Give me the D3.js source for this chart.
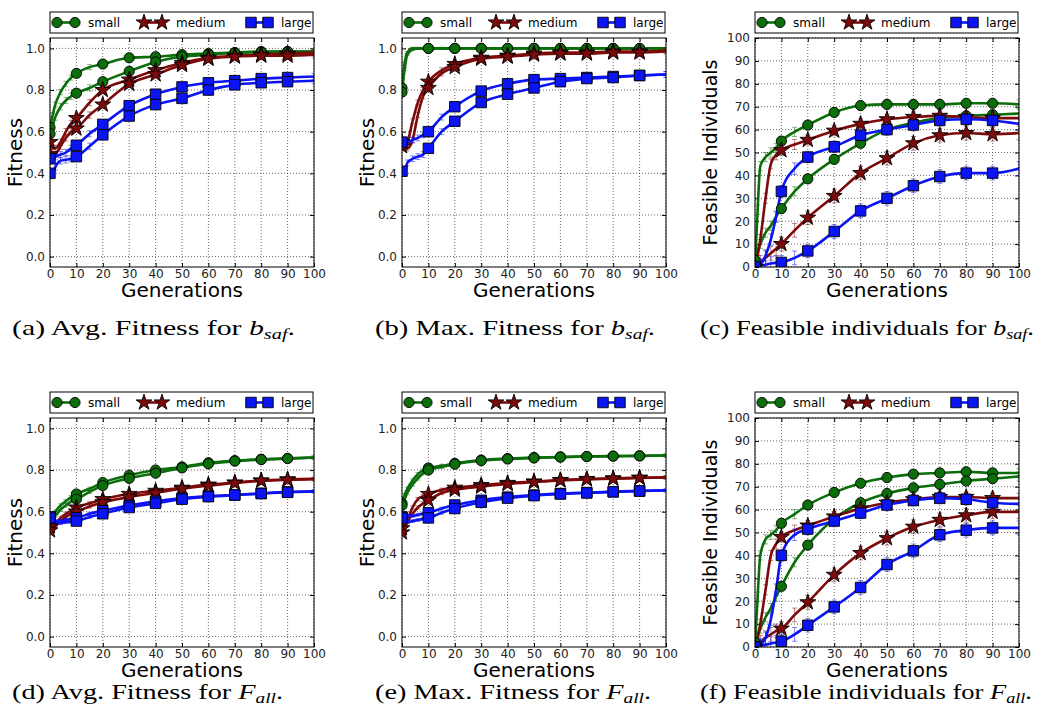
<!DOCTYPE html>
<html>
<head>
<meta charset="utf-8">
<script src="https://cdn.jsdelivr.net/npm/d3@7"></script>
<style>
  body { margin: 0; background: #fff; }
  svg { display: block; }
</style>
</head>
<body>
<svg id="chart"></svg>
<script>
var gens = [0, 1, 2, 4, 6, 8, 10, 15, 20, 30, 40, 50, 60, 70, 80, 90, 100];
var markerGens = [0, 10, 20, 30, 40, 50, 60, 70, 80, 90];
var sizes = ["small", "medium", "large"];

// (a) avg fitness b_saf
var aSmall1 = [0.62, 0.68, 0.73, 0.79, 0.83, 0.86, 0.88, 0.91, 0.925, 0.955, 0.96, 0.97, 0.975, 0.98, 0.985, 0.985, 0.985];
var aSmall2 = [0.59, 0.63, 0.67, 0.72, 0.75, 0.77, 0.785, 0.81, 0.84, 0.89, 0.935, 0.96, 0.97, 0.978, 0.982, 0.984, 0.985];
var aMedium1 = [0.55, 0.52, 0.52, 0.55, 0.6, 0.64, 0.665, 0.74, 0.8, 0.85, 0.895, 0.93, 0.955, 0.965, 0.97, 0.975, 0.98];
var aMedium2 = [0.49, 0.48, 0.49, 0.53, 0.57, 0.6, 0.615, 0.68, 0.73, 0.83, 0.875, 0.92, 0.95, 0.96, 0.965, 0.965, 0.97];
var aLarge1 = [0.47, 0.47, 0.48, 0.49, 0.5, 0.52, 0.535, 0.59, 0.635, 0.725, 0.78, 0.815, 0.835, 0.845, 0.855, 0.86, 0.865];
var aLarge2 = [0.40, 0.40, 0.43, 0.46, 0.465, 0.47, 0.48, 0.53, 0.585, 0.675, 0.73, 0.76, 0.80, 0.825, 0.835, 0.84, 0.845];
var aErr = [0.012, 0.015, 0.015, 0.015, 0.015, 0.015];

// (b) max fitness b_saf
var bSmall1 = [0.81, 0.93, 0.98, 1.0, 1.0, 1.0, 1.0, 1.0, 1.0, 1.0, 1.0, 1.0, 1.0, 1.0, 1.0, 1.0, 1.0];
var bSmall2 = [0.79, 0.90, 0.97, 0.995, 1.0, 1.0, 1.0, 1.0, 1.0, 1.0, 1.0, 1.0, 1.0, 1.0, 1.0, 1.0, 1.0];
var bMedium1 = [0.55, 0.54, 0.55, 0.65, 0.74, 0.8, 0.84, 0.895, 0.925, 0.955, 0.965, 0.975, 0.98, 0.98, 0.985, 0.985, 0.99];
var bMedium2 = [0.53, 0.52, 0.52, 0.56, 0.68, 0.77, 0.81, 0.88, 0.91, 0.95, 0.96, 0.97, 0.975, 0.975, 0.98, 0.98, 0.985];
var bLarge1 = [0.55, 0.55, 0.55, 0.56, 0.57, 0.585, 0.60, 0.67, 0.72, 0.795, 0.83, 0.85, 0.855, 0.86, 0.865, 0.87, 0.875];
var bLarge2 = [0.41, 0.41, 0.45, 0.47, 0.48, 0.49, 0.52, 0.6, 0.65, 0.74, 0.78, 0.81, 0.84, 0.855, 0.86, 0.87, 0.875];
var bErr = [0.005, 0.005, 0.012, 0.012, 0.014, 0.014];

// (c) feasible individuals b_saf
var cSmall1 = [0, 25, 44, 48, 50, 52, 55, 59, 62, 67.5, 70.5, 71, 71, 71, 71.5, 71.5, 71];
var cSmall2 = [3, 7, 10, 15, 18, 22, 25.5, 33, 38.5, 47, 54, 60, 63, 65, 66, 66.5, 67];
var cMedium1 = [0, 5, 12, 30, 45, 49, 51, 53.5, 55.5, 59.5, 62.5, 64.5, 65.5, 66, 65.5, 65, 65];
var cMedium2 = [0, 1, 2, 4, 6, 8, 10, 16, 21.5, 31, 41, 47.5, 54, 57.5, 58.5, 58, 58.5];
var cLarge1 = [0, 0.5, 1, 5, 12, 22, 33, 43, 48, 52.5, 57.5, 60, 62, 64, 64.5, 64, 62.5];
var cLarge2 = [0, 0.2, 0.5, 1, 1.5, 1.8, 2, 4, 7, 15.5, 24.5, 30, 35.5, 39.5, 41, 41, 43];
var cErr = [2, 2, 2.2, 3, 2.5, 3];

// (d) avg fitness F_all
var dSmall1 = [0.57, 0.58, 0.6, 0.63, 0.65, 0.67, 0.685, 0.71, 0.74, 0.775, 0.80, 0.815, 0.835, 0.845, 0.852, 0.856, 0.86];
var dSmall2 = [0.56, 0.57, 0.58, 0.61, 0.63, 0.65, 0.66, 0.695, 0.725, 0.76, 0.785, 0.81, 0.83, 0.843, 0.85, 0.855, 0.86];
var dMedium1 = [0.53, 0.52, 0.54, 0.57, 0.59, 0.605, 0.62, 0.64, 0.66, 0.685, 0.70, 0.715, 0.73, 0.74, 0.75, 0.755, 0.758];
var dMedium2 = [0.51, 0.52, 0.53, 0.555, 0.575, 0.59, 0.6, 0.625, 0.645, 0.67, 0.69, 0.71, 0.725, 0.738, 0.748, 0.753, 0.756];
var dLarge1 = [0.575, 0.56, 0.555, 0.555, 0.56, 0.565, 0.57, 0.59, 0.605, 0.63, 0.65, 0.665, 0.675, 0.68, 0.688, 0.695, 0.698];
var dLarge2 = [0.57, 0.555, 0.545, 0.545, 0.55, 0.552, 0.555, 0.575, 0.59, 0.62, 0.64, 0.66, 0.672, 0.68, 0.687, 0.693, 0.697];
var dErr = [0.008, 0.008, 0.008, 0.008, 0.007, 0.007];

// (e) max fitness F_all
var eSmall1 = [0.64, 0.68, 0.71, 0.75, 0.78, 0.80, 0.81, 0.82, 0.832, 0.848, 0.855, 0.86, 0.863, 0.865, 0.867, 0.868, 0.87];
var eSmall2 = [0.63, 0.66, 0.69, 0.73, 0.76, 0.785, 0.80, 0.815, 0.828, 0.845, 0.853, 0.858, 0.862, 0.865, 0.867, 0.868, 0.87];
var eMedium1 = [0.52, 0.53, 0.56, 0.62, 0.66, 0.675, 0.685, 0.705, 0.715, 0.728, 0.738, 0.745, 0.752, 0.757, 0.76, 0.763, 0.765];
var eMedium2 = [0.5, 0.52, 0.55, 0.59, 0.62, 0.64, 0.655, 0.69, 0.705, 0.72, 0.733, 0.742, 0.75, 0.755, 0.758, 0.762, 0.764];
var eLarge1 = [0.575, 0.575, 0.58, 0.58, 0.585, 0.59, 0.595, 0.615, 0.632, 0.655, 0.67, 0.68, 0.687, 0.692, 0.696, 0.7, 0.703];
var eLarge2 = [0.57, 0.555, 0.55, 0.555, 0.56, 0.565, 0.57, 0.595, 0.615, 0.645, 0.665, 0.677, 0.685, 0.69, 0.695, 0.699, 0.702];
var eErr = [0.008, 0.008, 0.008, 0.008, 0.007, 0.007];

// (f) feasible individuals F_all
var fSmall1 = [0, 22, 40, 47, 49, 51, 54, 58, 62, 67.5, 71.5, 74, 75.5, 76, 76.5, 76, 76];
var fSmall2 = [2, 5, 8, 13, 17, 22, 26.5, 37, 44.5, 56, 63, 67, 69.5, 71, 72.5, 73.5, 74.5];
var fMedium1 = [0, 4, 10, 25, 40, 45, 48, 51, 53, 57, 60.5, 63, 64.5, 65.5, 65.5, 65, 65];
var fMedium2 = [0, 1, 2, 4, 5.5, 7, 8, 14, 19.5, 31.5, 41, 47.5, 52.5, 55.5, 57.5, 59, 59];
var fLarge1 = [0, 0.5, 1, 4, 12, 25, 40, 49, 51.5, 55, 58.5, 62, 64, 65, 64.5, 63, 62.5];
var fLarge2 = [0, 0.3, 0.5, 1, 1.5, 2, 2.5, 5.5, 9.5, 17.5, 26, 36, 42, 49, 51, 52, 52];
var fErr = [2, 2, 2.2, 3, 2.5, 3];

var fitTicks = [0.0, 0.2, 0.4, 0.6, 0.8, 1.0];
var feasTicks = [0, 10, 20, 30, 40, 50, 60, 70, 80, 90, 100];
var genTicks = [0, 10, 20, 30, 40, 50, 60, 70, 80, 90, 100];

var colors = { small: "#0b6e0b", medium: "#7d0a0a", large: "#0a14f5" };
var symbols = { small: d3.symbolCircle, medium: d3.symbolStar, large: d3.symbolSquare };
var symSize = { small: 82, medium: 78, large: 110 };

var panels = [
  { col: 0, row: 0, kind: "fit", series: [aSmall1, aSmall2, aMedium1, aMedium2, aLarge1, aLarge2], err: aErr,
    cap: ["(a) Avg. Fitness for ", "b", "saf", "."], capW: 283 },
  { col: 1, row: 0, kind: "fit", series: [bSmall1, bSmall2, bMedium1, bMedium2, bLarge1, bLarge2], err: bErr,
    cap: ["(b) Max. Fitness for ", "b", "saf", "."], capW: 280 },
  { col: 2, row: 0, kind: "feas", series: [cSmall1, cSmall2, cMedium1, cMedium2, cLarge1, cLarge2], err: cErr,
    cap: ["(c) Feasible individuals for ", "b", "saf", "."], capW: 334 },
  { col: 0, row: 1, kind: "fit", series: [dSmall1, dSmall2, dMedium1, dMedium2, dLarge1, dLarge2], err: dErr,
    cap: ["(d) Avg. Fitness for ", "F", "all", "."], capW: 271 },
  { col: 1, row: 1, kind: "fit", series: [eSmall1, eSmall2, eMedium1, eMedium2, eLarge1, eLarge2], err: eErr,
    cap: ["(e) Max. Fitness for ", "F", "all", "."], capW: 276 },
  { col: 2, row: 1, kind: "feas", series: [fSmall1, fSmall2, fMedium1, fMedium2, fLarge1, fLarge2], err: fErr,
    cap: ["(f) Feasible individuals for ", "F", "all", "."], capW: 332 }
];

var W = 1037, H = 718;
var colLeft = [50, 402, 755];
var capLeft = [12, 375, 700];
var capBase = [335, 699];
var rowTop = [38, 418];
var pw = 264, ph = 229;

var svg = d3.select("#chart").attr("width", W).attr("height", H);

function drawPanel(p) {
  var x0 = colLeft[p.col], y0 = rowTop[p.row];
  var g = svg.append("g").attr("transform", "translate(" + x0 + "," + y0 + ")");

  var x = d3.scaleLinear().domain([0, 100]).range([0, pw]);
  var y = p.kind === "fit"
    ? d3.scaleLinear().domain([-0.05, 1.05]).range([ph, 0])
    : d3.scaleLinear().domain([0, 100]).range([ph, 0]);
  var yTicks = p.kind === "fit" ? fitTicks : feasTicks;

  // dotted grid
  g.append("g").selectAll("line").data(genTicks).enter().append("line")
    .attr("x1", d => x(d)).attr("x2", d => x(d)).attr("y1", 0).attr("y2", ph)
    .attr("stroke", "#444").attr("stroke-width", 0.8).attr("stroke-dasharray", "1,2");
  g.append("g").selectAll("line").data(yTicks).enter().append("line")
    .attr("x1", 0).attr("x2", pw).attr("y1", d => y(d)).attr("y2", d => y(d))
    .attr("stroke", "#444").attr("stroke-width", 0.8).attr("stroke-dasharray", "1,2");

  // axes, ticks pointing inward like matplotlib classic
  var fmt = p.kind === "fit" ? d3.format(".1f") : d3.format("d");
  g.append("g").attr("transform", "translate(0," + ph + ")")
    .call(d3.axisBottom(x).tickValues(genTicks).tickSizeInner(-4).tickSizeOuter(0).tickPadding(2));
  g.append("g")
    .call(d3.axisLeft(y).tickValues(yTicks).tickFormat(fmt).tickSizeInner(-4).tickSizeOuter(0).tickPadding(5));
  g.append("g")
    .call(d3.axisTop(x).tickValues(genTicks).tickSizeInner(-4).tickSizeOuter(0).tickFormat(""));
  g.append("g").attr("transform", "translate(" + pw + ",0)")
    .call(d3.axisRight(y).tickValues(yTicks).tickSizeInner(-4).tickSizeOuter(0).tickFormat(""));
  g.selectAll(".domain").remove();
  g.selectAll(".tick text").attr("font-family", "DejaVu Sans").attr("font-size", 12).attr("fill", "#222");

  var clip = "clip" + p.col + p.row;
  g.append("clipPath").attr("id", clip).append("rect")
    .attr("x", 0).attr("y", 0).attr("width", pw).attr("height", ph);
  var plot = g.append("g").attr("clip-path", "url(#" + clip + ")");

  var line = d3.line().curve(d3.curveMonotoneX).x(d => x(d[0])).y(d => y(d[1]));

  p.series.forEach(function (vals, i) {
    var size = sizes[Math.floor(i / 2)];
    var col = colors[size];
    var pts = gens.map((gn, k) => [gn, vals[k]]);
    var e = p.err[i];

    // faint error bars with caps
    var eb = plot.append("g").attr("stroke", col).attr("stroke-opacity", 0.5).attr("stroke-width", 1);
    pts.forEach(function (d) {
      var xx = x(d[0]);
      eb.append("line").attr("x1", xx).attr("x2", xx).attr("y1", y(d[1] - e)).attr("y2", y(d[1] + e));
      eb.append("line").attr("x1", xx - 2.5).attr("x2", xx + 2.5).attr("y1", y(d[1] - e)).attr("y2", y(d[1] - e));
      eb.append("line").attr("x1", xx - 2.5).attr("x2", xx + 2.5).attr("y1", y(d[1] + e)).attr("y2", y(d[1] + e));
    });

    plot.append("path").datum(pts).attr("d", line)
      .attr("fill", "none").attr("stroke", col).attr("stroke-width", 2.6).attr("stroke-linejoin", "round");
  });

  // markers on top
  p.series.forEach(function (vals, i) {
    var size = sizes[Math.floor(i / 2)];
    var mk = markerGens.map(gn => [gn, vals[gens.indexOf(gn)]]);
    plot.append("g").selectAll("path").data(mk).enter().append("path")
      .attr("d", d3.symbol().type(symbols[size]).size(symSize[size]))
      .attr("transform", d => "translate(" + x(d[0]) + "," + y(d[1]) + ")")
      .attr("fill", colors[size]).attr("stroke", "#000").attr("stroke-width", 0.9);
  });

  // frame
  g.append("rect").attr("width", pw).attr("height", ph)
    .attr("fill", "none").attr("stroke", "#000").attr("stroke-width", 1);

  // axis labels
  g.append("text").attr("x", pw / 2).attr("y", ph + 30).attr("text-anchor", "middle")
    .attr("font-family", "DejaVu Sans").attr("font-size", 20).text("Generations");
  var ylx = p.kind === "fit" ? -28 : -38;
  g.append("text").attr("transform", "translate(" + ylx + "," + (ph / 2) + ") rotate(-90)")
    .attr("text-anchor", "middle").attr("font-family", "DejaVu Sans")
    .attr("font-size", p.kind === "fit" ? 20 : 19)
    .text(p.kind === "fit" ? "Fitness" : "Feasible Individuals");

  // legend (two markers per entry)
  var lg = g.append("g").attr("transform", "translate(0,-26)");
  lg.append("rect").attr("width", pw - 1).attr("height", 21)
    .attr("fill", "#fff").attr("stroke", "#000").attr("stroke-width", 1);
  var mkX = [[7, 25], [94, 112], [201, 218]];
  var txX = [38, 126, 231];
  sizes.forEach(function (size, k) {
    var item = lg.append("g").attr("transform", "translate(0,10.5)");
    item.append("line").attr("x1", mkX[k][0]).attr("x2", mkX[k][1])
      .attr("stroke", colors[size]).attr("stroke-width", 2.6);
    mkX[k].forEach(function (mx) {
      item.append("path").attr("d", d3.symbol().type(symbols[size]).size(symSize[size]))
        .attr("transform", "translate(" + mx + ",0)")
        .attr("fill", colors[size]).attr("stroke", "#000").attr("stroke-width", 0.9);
    });
    item.append("text").attr("x", txX[k]).attr("y", 4).attr("font-family", "DejaVu Sans")
      .attr("font-size", 12).text(size);
  });

  // caption below the panel, stretched to the width of the original
  var cap = svg.append("text").attr("x", capLeft[p.col]).attr("y", capBase[p.row])
    .attr("font-family", "Liberation Serif").attr("font-size", 22)
    .attr("textLength", p.capW).attr("lengthAdjust", "spacingAndGlyphs");
  cap.append("tspan").text(p.cap[0]);
  cap.append("tspan").attr("font-style", "italic").text(p.cap[1]);
  cap.append("tspan").attr("font-style", "italic").attr("font-size", 15).attr("dy", 4).text(p.cap[2]);
  cap.append("tspan").attr("dy", -4).text(p.cap[3]);
}

panels.forEach(drawPanel);
</script>
</body>
</html>
